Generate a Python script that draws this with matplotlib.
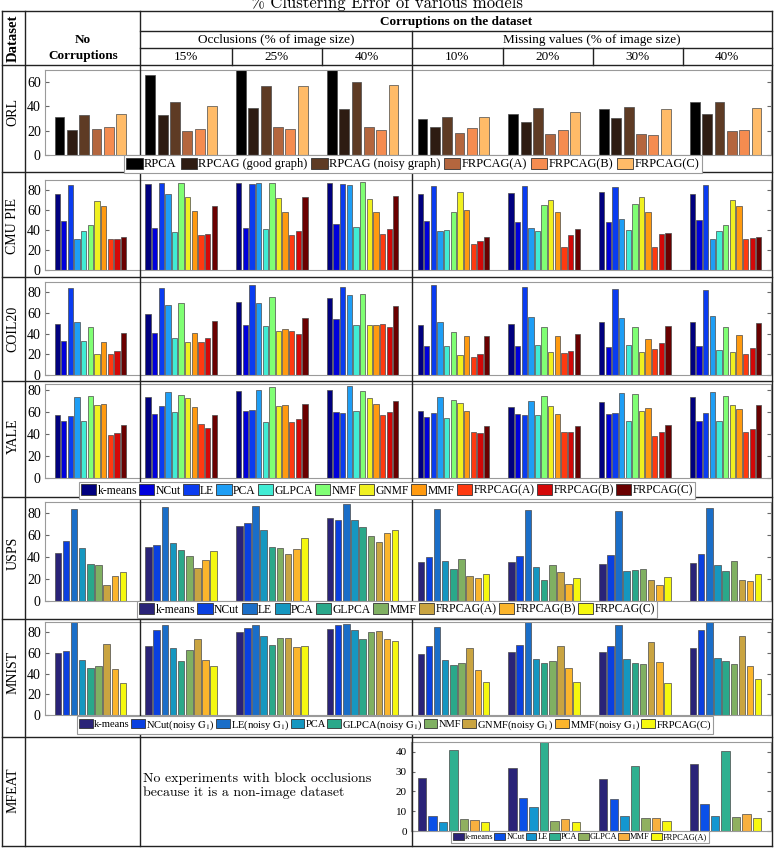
import numpy as np
import matplotlib
matplotlib.use('Agg')
import matplotlib.pyplot as plt
from matplotlib.lines import Line2D
from matplotlib.patches import Patch

W, H = 774, 855

# --- data (rows = column of the table, cols = method) ---
groups = ['No corruption', 'Occ 15%', 'Occ 25%', 'Occ 40%',
          'Miss 10%', 'Miss 20%', 'Miss 30%', 'Miss 40%']

orl_methods = ['RPCA', 'RPCAG (good graph)', 'RPCAG (noisy graph)',
               'FRPCAG(A)', 'FRPCAG(B)', 'FRPCAG(C)']
orl_vals = [
    [31.7, 20.4, 33.3, 21.2, 22.8, 33.6],
    [66.0, 33.0, 43.8, 20.1, 21.5, 40.2],
    [74.0, 38.8, 57.0, 23.4, 21.5, 57.0],
    [74.0, 37.7, 60.0, 23.1, 20.9, 57.8],
    [29.5, 22.9, 31.1, 17.9, 22.3, 31.7],
    [33.9, 27.5, 38.3, 17.4, 20.4, 35.3],
    [37.5, 30.6, 39.4, 17.1, 16.5, 38.0],
    [44.0, 33.6, 44.0, 19.8, 20.6, 38.5],
]

face_methods = ['k-means', 'NCut', 'LE', 'PCA', 'GLPCA', 'NMF', 'GNMF', 'MMF',
                'FRPCAG(A)', 'FRPCAG(B)', 'FRPCAG(C)']
cmu_vals = [
    [76.0, 49.3, 84.7, 31.3, 38.7, 44.7, 69.3, 64.3, 30.7, 31.3, 32.7],
    [86.0, 42.3, 87.3, 76.0, 38.0, 87.0, 72.7, 59.0, 34.7, 35.7, 64.0],
    [86.7, 42.3, 86.3, 87.3, 40.7, 87.0, 72.0, 57.7, 35.0, 39.3, 72.7],
    [86.7, 46.0, 86.3, 85.3, 43.3, 88.0, 71.0, 58.0, 36.3, 41.0, 74.0],
    [76.0, 49.0, 84.3, 38.7, 40.3, 58.3, 77.7, 60.0, 26.0, 29.0, 33.3],
    [76.7, 47.7, 84.0, 41.7, 39.3, 65.0, 70.3, 57.7, 22.7, 35.3, 40.7],
    [78.0, 47.7, 83.0, 50.7, 40.3, 65.7, 73.0, 57.7, 23.3, 35.7, 37.3],
    [76.0, 49.7, 84.7, 31.3, 38.7, 45.0, 69.7, 64.3, 31.0, 31.7, 33.3],
]
coil_vals = [
    [49.0, 33.2, 84.5, 51.6, 32.9, 46.8, 20.0, 32.3, 20.3, 23.5, 40.3],
    [58.7, 41.0, 84.5, 67.7, 36.1, 69.7, 31.6, 41.0, 31.6, 35.5, 52.0],
    [70.3, 48.7, 87.4, 70.0, 47.4, 75.5, 42.6, 44.2, 42.9, 39.4, 55.5],
    [74.5, 54.2, 85.5, 77.1, 48.1, 78.0, 48.7, 48.1, 49.0, 46.5, 67.0],
    [48.0, 27.7, 86.8, 51.6, 28.4, 41.9, 19.0, 37.4, 17.7, 20.0, 37.7],
    [49.0, 28.0, 85.2, 56.1, 28.7, 46.1, 22.3, 37.7, 21.6, 22.9, 40.0],
    [51.6, 27.1, 83.2, 54.8, 28.7, 46.1, 21.9, 34.8, 25.2, 30.6, 47.4],
    [51.6, 28.0, 82.6, 57.4, 24.2, 46.1, 22.3, 38.4, 20.0, 25.8, 50.0],
]
yale_vals = [
    [57.4, 51.4, 56.5, 73.1, 51.4, 74.6, 66.2, 67.1, 39.3, 40.5, 47.7],
    [73.4, 58.3, 65.0, 77.6, 59.5, 75.5, 72.2, 64.4, 48.9, 45.3, 57.1],
    [78.5, 60.4, 61.9, 79.8, 50.2, 82.2, 65.3, 66.2, 50.2, 53.5, 67.1],
    [79.2, 60.1, 58.9, 83.4, 61.0, 78.9, 72.2, 66.5, 57.1, 60.1, 69.8],
    [60.7, 55.3, 58.9, 73.1, 54.4, 70.7, 68.0, 60.4, 41.4, 40.8, 47.4],
    [64.4, 58.0, 57.1, 69.8, 57.1, 74.0, 65.3, 58.3, 42.0, 42.0, 46.8],
    [68.6, 58.3, 58.9, 77.0, 51.4, 75.8, 61.0, 63.4, 38.4, 41.4, 47.7],
    [72.8, 51.1, 58.9, 77.9, 51.4, 74.0, 65.6, 62.5, 41.4, 44.1, 65.6],
]

usps_methods = ['k-means', 'NCut', 'LE', 'PCA', 'GLPCA', 'MMF',
                'FRPCAG(A)', 'FRPCAG(B)', 'FRPCAG(C)']
usps_vals = [
    [44.0, 55.0, 84.0, 48.0, 34.0, 33.0, 15.0, 23.0, 26.0],
    [49.0, 51.0, 85.5, 53.0, 46.0, 41.0, 30.0, 37.0, 45.5],
    [68.5, 71.0, 86.0, 64.5, 49.0, 48.0, 42.5, 47.5, 57.0],
    [75.5, 73.5, 88.0, 74.0, 67.0, 59.5, 54.0, 62.0, 64.5],
    [35.5, 40.3, 84.0, 36.4, 28.8, 38.2, 23.0, 21.0, 24.5],
    [35.5, 40.6, 82.7, 30.9, 19.4, 32.4, 26.4, 15.5, 20.6],
    [33.6, 41.5, 82.1, 27.6, 28.2, 29.1, 19.1, 14.8, 22.1],
    [34.2, 42.7, 84.2, 33.0, 27.6, 36.7, 19.4, 17.9, 24.2],
]

mnist_methods = ['k-means', r'NCut(noisy $\mathrm{G}_1$)', r'LE(noisy $\mathrm{G}_1$)', 'PCA',
                 r'GLPCA(noisy $\mathrm{G}_1$)', 'NMF', r'GNMF(noisy $\mathrm{G}_1$)',
                 r'MMF(noisy $\mathrm{G}_1$)', 'FRPCAG(C)']
mnist_vals = [
    [59.7, 62.3, 90.0, 53.2, 45.8, 47.1, 68.5, 44.2, 31.2],
    [66.6, 82.1, 86.7, 65.3, 51.9, 63.0, 74.0, 52.9, 47.4],
    [80.5, 83.8, 87.0, 76.3, 67.9, 75.0, 74.4, 66.2, 66.6],
    [83.4, 86.7, 88.3, 82.1, 73.4, 79.9, 81.2, 73.4, 71.4],
    [59.4, 67.2, 85.4, 53.6, 48.4, 50.3, 64.6, 43.2, 31.5],
    [60.7, 67.5, 90.0, 54.5, 50.6, 51.9, 67.2, 45.5, 31.5],
    [60.7, 67.2, 86.7, 54.5, 50.3, 49.0, 70.8, 51.0, 31.2],
    [64.6, 82.1, 90.0, 55.2, 52.3, 49.0, 76.9, 47.1, 34.7],
]

mfeat_methods = ['k-means', 'NCut', 'LE', 'PCA', 'GLPCA', 'MMF', 'FRPCAG(A)']
mfeat_vals = [  # missing values only: 10%, 20%, 30%, 40%
    [26.7, 7.5, 4.8, 40.9, 6.0, 5.6, 4.6],
    [31.7, 16.7, 12.1, 46.0, 5.3, 6.0, 4.6],
    [26.4, 16.4, 7.5, 32.7, 6.5, 6.6, 5.1],
    [33.7, 13.8, 7.5, 40.5, 7.2, 8.5, 6.8],
]

# --- colours ---
copper6 = ['#000000', '#2e1c12', '#5e3b24', '#b4663e', '#f58c50', '#ffbb68']
jet11 = ['#00007f', '#0000dc', '#0a3cf0', '#1e9ef5', '#40ecd4', '#80ff74',
         '#f0f020', '#ff9a10', '#ff3a10', '#d40808', '#6a0000']
parula9 = ['#2a2378', '#0a40e0', '#1a6ec8', '#1597c0', '#2aa88a',
           '#80b062', '#c9a441', '#fbb52c', '#f5f80f']
parula7 = ['#2a2378', '#0a50e8', '#1497d0', '#30b090', '#90b060', '#f8b040', '#f8f810']

SERIF = 'Liberation Serif'
HEAD = ['Liberation Sans Narrow', 'Liberation Serif']
plt.rcParams['mathtext.fontset'] = 'stix'

fig = plt.figure(figsize=(W / 100, H / 100), dpi=100)


def fx(x):
    return x / W


def fy(y):
    return 1 - y / H


def row_axes(top, bottom, left=45, right=771):
    ax = fig.add_axes([fx(left), fy(bottom), (right - left) / W, (bottom - top) / H])
    for s in ax.spines.values():
        s.set_color('#9a9a9a')
        s.set_linewidth(0.8)
    ax.set_xticks([])
    ax.tick_params(axis='y', direction='in', left=True, right=True, length=3,
                   color='#666666', labelsize=10, pad=3)
    return ax


def grouped_bars(ax, vals, colors, positions, frac=0.8, span=0.79):
    vals = np.asarray(vals)
    n = vals.shape[1]
    slot = span / (n - 1 + frac)
    for j in range(n):
        x = positions - span / 2 + slot * (j + frac / 2)
        ax.bar(x, vals[:, j], width=slot * frac, color=colors[j],
               edgecolor='#4a4a4a', linewidth=0.5)


def set_ylim(ax, top, ticks, size=10):
    ax.set_ylim(0, top)
    ax.set_yticks(ticks)
    ax.set_yticklabels([str(t) for t in ticks], family=SERIF, fontsize=size)


def add_legend(labels, colors, cx, top, size=9, colsp=0.3):
    handles = [Patch(facecolor=c, edgecolor='#333333', linewidth=0.6) for c in colors]
    leg = fig.legend(handles, labels, loc='upper center', bbox_to_anchor=(fx(cx), fy(top)),
                     ncol=len(labels), frameon=True, fancybox=False, framealpha=1,
                     edgecolor='#9a9a9a', handlelength=1.3, handleheight=1.0,
                     handletextpad=0.12, columnspacing=colsp, borderpad=0.2,
                     borderaxespad=0, prop={'family': SERIF, 'size': size})
    leg.get_frame().set_linewidth(0.8)
    return leg


pos = np.arange(len(groups))

# ORL
ax = row_axes(70, 155)
grouped_bars(ax, orl_vals, copper6, pos)
ax.set_xlim(-0.5, 7.5)
set_ylim(ax, 70, [0, 20, 40, 60])
add_legend(orl_methods, copper6, 413, 155)

# CMU PIE
ax = row_axes(180, 270)
grouped_bars(ax, cmu_vals, jet11, pos)
ax.set_xlim(-0.5, 7.5)
set_ylim(ax, 90, [0, 20, 40, 60, 80])

# COIL20
ax = row_axes(282, 375)
grouped_bars(ax, coil_vals, jet11, pos)
ax.set_xlim(-0.5, 7.5)
set_ylim(ax, 90, [0, 20, 40, 60, 80])

# YALE
ax = row_axes(384, 478)
grouped_bars(ax, yale_vals, jet11, pos)
ax.set_xlim(-0.5, 7.5)
set_ylim(ax, 85, [0, 20, 40, 60, 80])
add_legend(face_methods, jet11, 387, 482, size=8.4, colsp=0.2)

# USPS
ax = row_axes(502, 601)
grouped_bars(ax, usps_vals, parula9, pos)
ax.set_xlim(-0.5, 7.5)
set_ylim(ax, 90, [0, 20, 40, 60, 80])
add_legend(usps_methods, parula9, 397, 601, size=8.4, colsp=0.2)

# MNIST
ax = row_axes(622, 715)
grouped_bars(ax, mnist_vals, parula9, pos)
ax.set_xlim(-0.5, 7.5)
set_ylim(ax, 90, [0, 20, 40, 60, 80])
add_legend(mnist_methods, parula9, 395, 716, size=7.6, colsp=0.12)

# MFEAT (missing values only)
ax = row_axes(742, 831, left=411)
grouped_bars(ax, mfeat_vals, parula7, pos[4:])
ax.set_xlim((411 - 45) / 90.75 - 0.5, 7.5)
set_ylim(ax, 45, [0, 10, 20, 30, 40], size=8)
add_legend(mfeat_methods, parula7, 580, 831, size=6, colsp=0.12)

fig.text(fx(143), fy(786), 'No experiments with block occlusions\nbecause it is a non-image dataset',
         family='cmr10', fontsize=10, ha='left', va='center', linespacing=1.15)

# --- table grid ---
def hline(y, x0=2, x1=772):
    fig.add_artist(Line2D([fx(x0), fx(x1)], [fy(y), fy(y)], color='#222222', lw=1.0))


def vline(x, y0, y1=846):
    fig.add_artist(Line2D([fx(x), fx(x)], [fy(y0), fy(y1)], color='#222222', lw=1.0))


for y in [11, 65, 172, 277, 381, 497, 619, 737, 846]:
    hline(y)
hline(31, 140)
hline(48, 140)
for x in [2, 25, 140, 772]:
    vline(x, 11)
vline(412, 31)
for x in [232, 322, 503, 593, 683]:
    vline(x, 48, 65)

# header texts
fig.text(fx(387), fy(8), '% Clustering Error of various models', family='cmr10',
         fontsize=12, ha='center', va='baseline')
fig.text(fx(13), fy(38), 'Dataset', rotation=90, family=SERIF, weight='bold',
         fontsize=10.5, ha='center', va='center')
fig.text(fx(83), fy(48), 'No\nCorruptions', family=HEAD, weight='bold',
         fontsize=9.5, ha='center', va='center', linespacing=1.5)
fig.text(fx(456), fy(22), 'Corruptions on the dataset', family=HEAD, weight='bold',
         fontsize=9.5, ha='center', va='center')
fig.text(fx(276), fy(40), 'Occlusions (% of image size)', family=HEAD,
         fontsize=9.5, ha='center', va='center')
fig.text(fx(592), fy(40), 'Missing values (% of image size)', family=HEAD,
         fontsize=9.5, ha='center', va='center')
col_labels = ['15%', '25%', '40%', '10%', '20%', '30%', '40%']
col_centers = [186, 277, 367, 457, 548, 638, 727]
for lab, cx in zip(col_labels, col_centers):
    fig.text(fx(cx), fy(57), lab, family=HEAD, fontsize=9.5, ha='center', va='center')

row_names = ['ORL', 'CMU PIE', 'COIL20', 'YALE', 'USPS', 'MNIST', 'MFEAT']
row_centers = [112, 226, 329, 436, 553, 672, 790]
for name, cy in zip(row_names, row_centers):
    fig.text(fx(13), fy(cy), name, rotation=90, family=SERIF, fontsize=10,
             ha='center', va='center')

fig.savefig('out.png', dpi=100)
